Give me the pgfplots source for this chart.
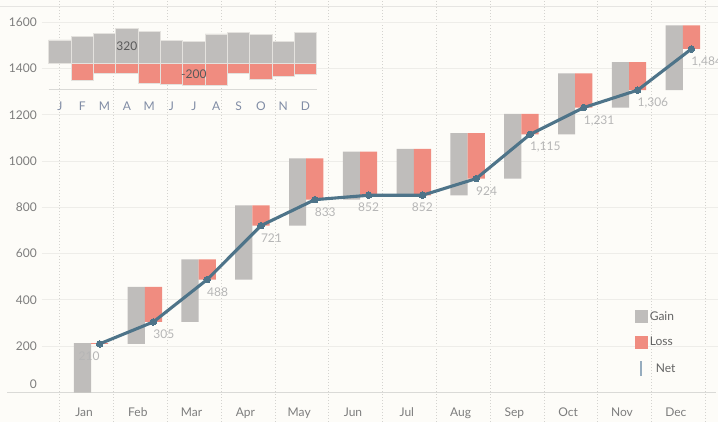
\documentclass[border=0pt]{standalone}
\usepackage{fontspec}
\setmainfont{Lato}
\usepackage{pgfplots}
\usepackage{pgfplotstable}
\pgfplotsset{compat=1.18}
\definecolor{bg}{RGB}{253,252,248}
\definecolor{gaincol}{RGB}{191,189,187}
\definecolor{losscol}{RGB}{240,140,128}
\definecolor{netcol}{RGB}{78,116,137}
\definecolor{gridcol}{RGB}{238,237,233}
\definecolor{dotcol}{RGB}{212,211,207}
\definecolor{basecol}{RGB}{218,218,215}
\definecolor{topcol}{RGB}{230,229,226}
\definecolor{tickcol}{RGB}{125,125,125}
\definecolor{labcol}{RGB}{182,182,182}
\definecolor{insetlab}{RGB}{128,140,165}
\definecolor{insettext}{RGB}{90,90,90}
\definecolor{insetedge}{RGB}{228,226,222}
\definecolor{legtext}{RGB}{100,100,100}
\definecolor{netleg}{RGB}{150,172,190}
\newcommand\fs{\fontsize{12bp}{14bp}\selectfont}

\pgfplotstableread{
k start gain net loss
0 0 213 210 3
1 210 246 305 151
2 305 270 488 87
3 488 320 721 87
4 721 290 833 178
5 833 208 852 189
6 852 200 852 200
7 852 268 924 196
8 924 280 1115 89
9 1115 264 1231 148
10 1231 196 1306 121
11 1306 280 1484 102
}\wf

\pgfplotstableread{
k nl
0 -3
1 -151
2 -87
3 -87
4 -178
5 -189
6 -200
7 -196
8 -89
9 -148
10 -121
11 -102
}\lossneg

\pgfplotstableread{
x net lab dx
0.29 210 210 -21
1.29 305 305 0
2.29 488 488 0
3.29 721 721 0
4.29 833 833 0
5.29 852 852 -10.5
6.29 852 852 -10.5
7.29 924 924 0
8.29 1115 1,115 0
9.29 1231 1,231 0
10.29 1306 1,306 0
11.29 1484 1,484 0
}\nt

\pgfplotsset{mainframe/.style={at={(0,0)}, anchor=south west, width=676bp, height=422bp, scale only axis,
  xmin=-0.7807, xmax=11.784, ymin=-127.4, ymax=1695.5}}

\begin{document}
\begin{tikzpicture}
\path[use as bounding box, fill=bg] (-42bp,0bp) rectangle (676bp,422bp);

% main axis: grid, ticks, gain bars
\begin{axis}[mainframe,
  axis line style={draw=none}, tick style={draw=none},
  xtick={0,...,11}, xticklabels={Jan,Feb,Mar,Apr,May,Jun,Jul,Aug,Sep,Oct,Nov,Dec},
  xticklabel style={font=\fs, text=tickcol, anchor=base, inner sep=0pt, yshift=5.5bp},
  ytick={200,400,...,1600},
  yticklabel style={font=\fs, text=tickcol, anchor=east, inner sep=0pt, xshift=-5bp},
  /pgf/number format/assume math mode=true, /pgf/number format/1000 sep={},
  extra y ticks={0}, extra y tick style={grid=none, yticklabel style={yshift=8.8bp}},
  ymajorgrids, major grid style={gridcol, line width=0.9bp},
  minor xtick={-0.45,0.55,...,11.55}, xminorgrids,
  minor grid style={dotcol, line width=0.9bp, dash pattern=on 1bp off 2bp},
  ybar stacked, bar width=17.2bp, clip=false]
\addplot[ybar, draw=none, fill=none, bar shift=-1.6bp, forget plot] table[x=k, y=start]{\wf};
\addplot[ybar, draw=none, fill=gaincol, bar shift=-1.6bp, forget plot] table[x=k, y=gain]{\wf};
\draw[basecol, line width=1.2bp] (axis cs:-1.431,0) -- (axis cs:11.747,0);
\draw[topcol, line width=1bp] (axis cs:-1.561,1669.5) -- (axis cs:11.784,1669.5);
\end{axis}

% loss bars
\begin{axis}[mainframe, hide axis, ybar stacked, bar width=17.2bp]
\addplot[ybar, draw=none, fill=none, bar shift=15.6bp, forget plot] table[x=k, y=net]{\wf};
\addplot[ybar, draw=none, fill=losscol, bar shift=15.6bp, forget plot] table[x=k, y=loss]{\wf};
\end{axis}

% overlay: net line and legend
\begin{axis}[mainframe, hide axis, clip=false,
  legend style={draw=none, fill=none, at={(axis description cs:0.8772,0.2678)}, anchor=north west,
    inner sep=0pt, row sep=11bp, font=\fs, text=legtext, nodes={inner sep=2.2bp}},
  legend cell align=left]
\addlegendimage{legend image code/.code={\fill[gaincol] (0bp,-6bp) rectangle (12bp,6bp);}}
\addlegendentry{Gain}
\addlegendimage{legend image code/.code={\fill[losscol] (0bp,-6bp) rectangle (12bp,6bp);}}
\addlegendentry{Loss}
\addplot[netcol, line width=3.1bp, line join=round, mark=*, mark size=3.3bp,
  mark options={fill=netcol, draw=netcol, line width=0pt},
  nodes near coords, point meta=explicit symbolic,
  visualization depends on={\thisrow{dx} \as \dx},
  every node near coord/.append style={font=\fs, text=labcol, anchor=north west, inner sep=0pt, xshift=\dx bp, yshift=-8bp},
  legend image code/.code={\draw[netleg, line width=1.4bp] (5.5bp,-7.5bp) -- (5.5bp,7.5bp);}]
  table[x=x, y=net, meta=lab]{\nt};
\addlegendentry{\hspace{6bp}Net}
\end{axis}

% inset
\begin{axis}[at={(6.7bp,332.7bp)}, anchor=south west, width=268bp, height=69.3bp, scale only axis,
  xmin=-0.5, xmax=11.5, ymin=-236, ymax=394,
  axis line style={draw=none}, tick style={draw=none}, ytick=\empty,
  xtick={0,...,11}, xticklabels={J,F,M,A,M,J,J,A,S,O,N,D},
  xticklabel style={font=\fs, text=insetlab, anchor=base, inner sep=0pt, yshift=-16.7bp},
  ybar, bar width=22.33bp, clip=false]
\addplot[ybar, bar shift=0pt, fill=gaincol, draw=insetedge, line width=0.7bp] table[x=k, y=gain]{\wf};
\addplot[ybar, bar shift=0pt, fill=losscol, draw=insetedge, line width=0.7bp] table[x=k, y=nl]{\lossneg};
\draw[basecol, line width=0.8bp] (axis cs:-0.5,-236) -- (axis cs:11.5,-236);
\node[font=\fs, text=insettext] at (axis cs:3,160) {320};
\node[font=\fs, text=insettext] at (axis cs:6,-100) {-200};
\end{axis}
\end{tikzpicture}
\end{document}
